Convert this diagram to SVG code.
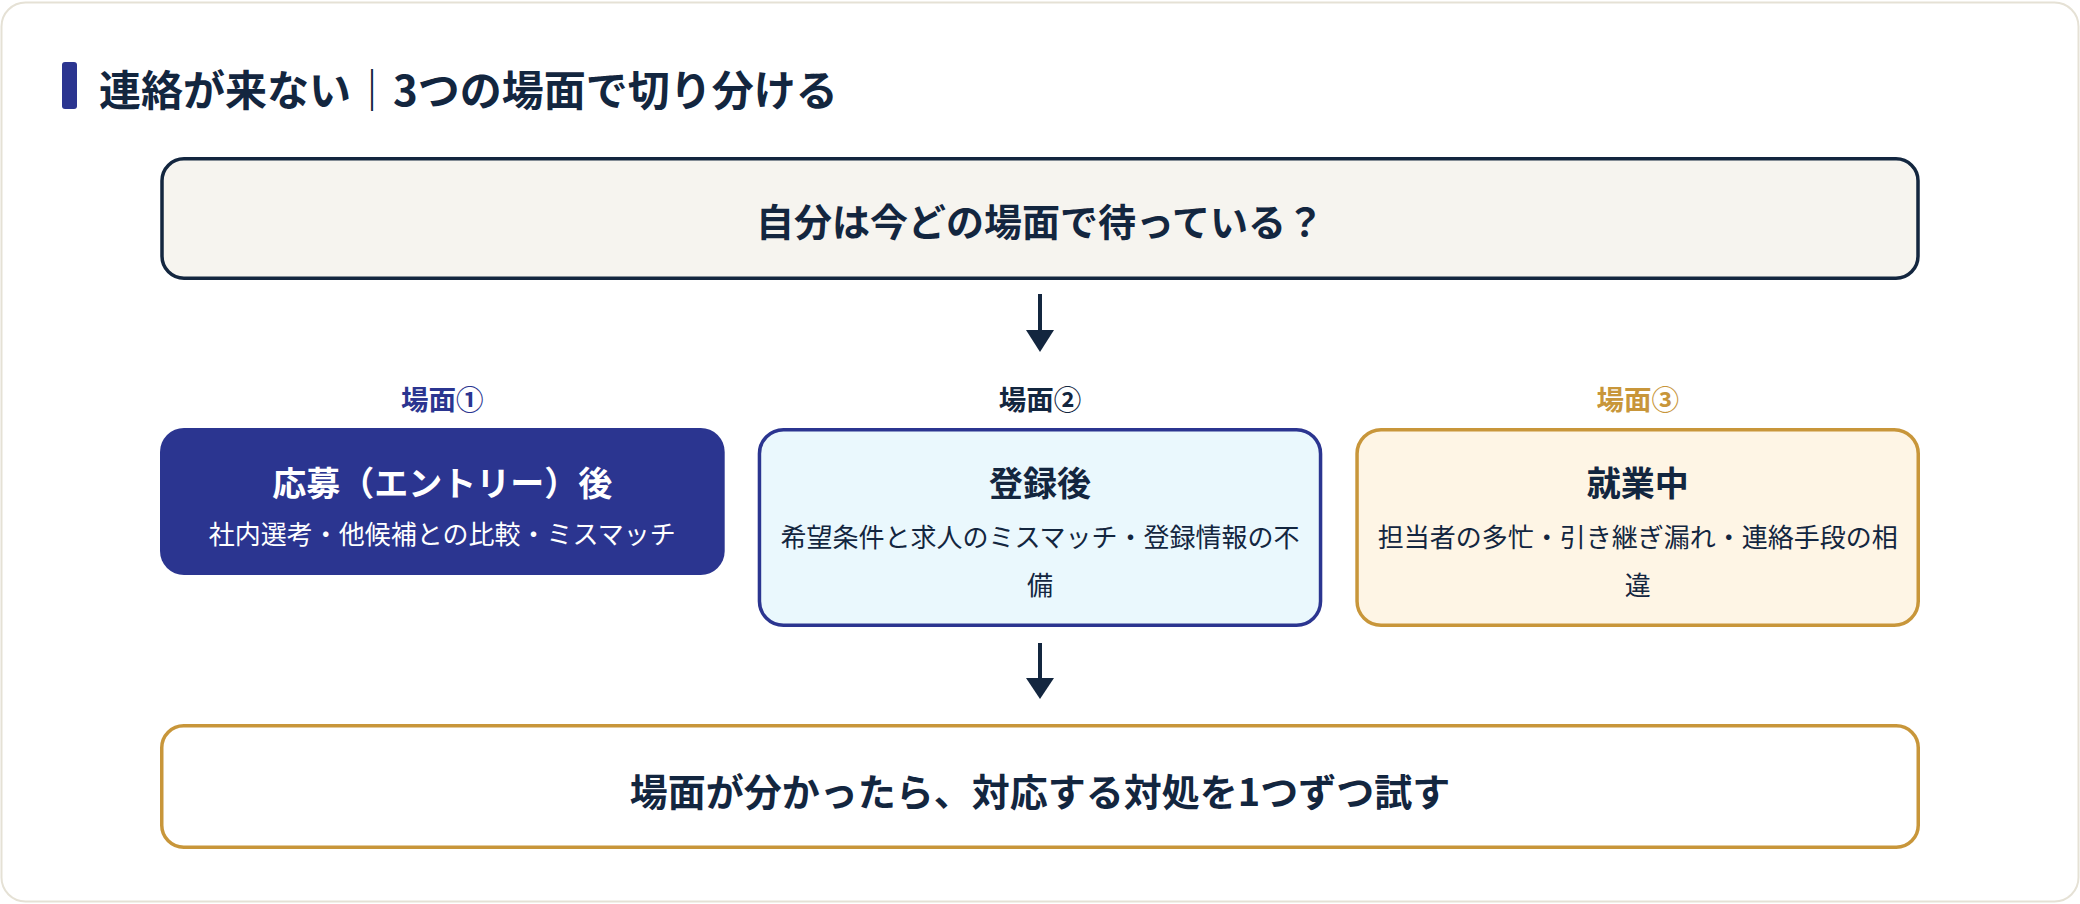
<svg xmlns="http://www.w3.org/2000/svg" width="2080" height="904" viewBox="0 0 2080 904">
<style>
text{font-family:"Noto Sans CJK JP","Noto Sans CJK SC",sans-serif;text-anchor:middle;dominant-baseline:central;}
.b{font-weight:700;}
.navy{fill:#13263f;}
.white{fill:#ffffff;}
.blue{fill:#2b3590;}
.gold{fill:#c8963a;}
.sub{font-size:26px;font-weight:400;}
.ttl{font-size:34px;font-weight:700;}
.lbl{font-size:27.5px;font-weight:700;}
.big{font-size:38px;font-weight:700;}
.conn line{stroke:#13263f;stroke-width:4;}
.conn polygon{fill:#13263f;}
</style>
<rect x="1.5" y="2.5" width="2077" height="899" rx="24" fill="#ffffff" stroke="#e5e1d5" stroke-width="2"/>
<g id="title">
<rect x="62" y="62" width="15" height="47" rx="3" fill="#2b3590"/>
<text x="99" y="87.5" class="b navy" style="font-size:42px;text-anchor:start;">連絡が来ない｜3つの場面で切り分ける</text>
</g>
<g id="question">
<rect x="162" y="158.75" width="1756" height="119.5" rx="22" fill="#f6f4ef" stroke="#13263f" stroke-width="3.5"/>
<text x="1040" y="219.5" class="big navy">自分は今どの場面で待っている？</text>
</g>
<g class="conn" id="connectors">
<line x1="1040" y1="294" x2="1040" y2="332"/>
<polygon points="1026,330 1054,330 1040,352"/>
<line x1="1040" y1="643" x2="1040" y2="680"/>
<polygon points="1026,678 1054,678 1040,699"/>
</g>
<g id="scene1">
<text x="442.3" y="397.5" class="lbl blue">場面①</text>
<rect x="160" y="428" width="564.7" height="147" rx="24" fill="#2b3590"/>
<text x="442.3" y="481.5" class="ttl white">応募（エントリー）後</text>
<text x="442.3" y="532" class="sub white">社内選考・他候補との比較・ミスマッチ</text>
</g>
<g id="scene2">
<text x="1040" y="397.5" class="lbl navy">場面②</text>
<rect x="759.45" y="429.75" width="561.1" height="195.5" rx="24" fill="#eaf8fd" stroke="#2b3590" stroke-width="3.5"/>
<text x="1040" y="481.5" class="ttl navy">登録後</text>
<text x="1040" y="535.5" class="sub navy">希望条件と求人のミスマッチ・登録情報の不</text>
<text x="1040" y="583.5" class="sub navy">備</text>
</g>
<g id="scene3">
<text x="1637.7" y="397.5" class="lbl gold">場面③</text>
<rect x="1357.05" y="429.75" width="561.2" height="195.5" rx="24" fill="#fef5e5" stroke="#c8963a" stroke-width="3.5"/>
<text x="1637.7" y="481.5" class="ttl navy">就業中</text>
<text x="1637.7" y="535.5" class="sub navy">担当者の多忙・引き継ぎ漏れ・連絡手段の相</text>
<text x="1637.7" y="583.5" class="sub navy">違</text>
</g>
<g id="action">
<rect x="161.75" y="725.75" width="1756.5" height="121.5" rx="22" fill="#ffffff" stroke="#c8963a" stroke-width="3.5"/>
<text x="1040" y="789.5" class="big navy">場面が分かったら、対応する対処を1つずつ試す</text>
</g>
</svg>
